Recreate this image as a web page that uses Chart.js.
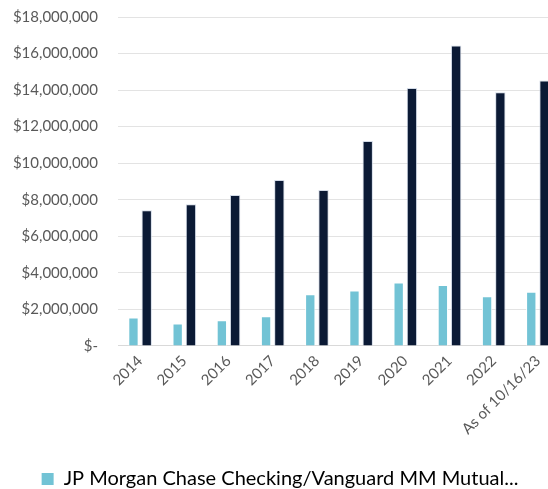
<!DOCTYPE html>
<html><head><meta charset="utf-8">
<script src="https://cdn.jsdelivr.net/npm/chart.js@4/dist/chart.umd.min.js"></script>
<style>
html,body{margin:0;padding:0;overflow:hidden;background:#fff;}
#wrap{position:relative;width:560px;height:489px;}
</style></head>
<body><div id="wrap"><canvas id="c"></canvas></div>
<script>
const categories = ["2014","2015","2016","2017","2018","2019","2020","2021","2022","As of 10/16/23"];
const seriesNames = ["JP Morgan Chase Checking/Vanguard MM Mutual Fund", "Investment Accounts"];
const checkingValues = [1560000,1230000,1410000,1630000,2830000,3030000,3470000,3330000,2720000,2960000];
const investmentValues = [7430000,7760000,8260000,9080000,8530000,11220000,14120000,16440000,13880000,14520000];
const yTicks = [0,2000000,4000000,6000000,8000000,10000000,12000000,14000000,16000000,18000000];
const legendText = "JP Morgan Chase Checking/Vanguard MM Mutual...";

const FONT = "Lato";
new Chart(document.getElementById('c'), {
  type: 'bar',
  data: {
    labels: categories,
    datasets: [
      {label: seriesNames[0], data: checkingValues, backgroundColor: '#72C3D5', borderColor: '#ffffff', borderWidth: 1,
       categoryPercentage: 0.6, barPercentage: 0.78},
      {label: seriesNames[1], data: investmentValues, backgroundColor: '#0B1A35', borderColor: 'rgba(200,210,225,0.8)', borderWidth: 1,
       categoryPercentage: 0.6, barPercentage: 0.78}
    ]
  },
  options: {
    responsive: true, maintainAspectRatio: false, animation: false,
    layout: {padding: {top: 17, right: 0, left: 0, bottom: -10}},
    plugins: {
      tooltip: {enabled: false},
      legend: {
        position: 'bottom', align: 'center',
        labels: {
          font: {family: FONT, size: 20}, color: '#595959',
          boxWidth: 12, boxHeight: 12, padding: 10,
          generateLabels: (chart) => [{
            text: legendText, fillStyle: '#72C3D5', strokeStyle: '#72C3D5', lineWidth: 0,
            datasetIndex: 0, hidden: false
          }]
        }
      }
    },
    scales: {
      x: {
        grid: {display: false, drawTicks: false},
        border: {display: true, color: '#D9D9D9'},
        afterFit: (s) => { s.height += 15; },
        ticks: {font: {family: FONT, size: 15}, color: '#595959', minRotation: 45, maxRotation: 45, padding: 6, autoSkip: false}
      },
      y: {
        min: 0, max: 18000000,
        afterBuildTicks: (s) => { s.ticks = yTicks.map(v => ({value: v})); },
        afterFit: (s) => { s.width = 118; s.paddingTop = 0; },
        grid: {color: '#E3E3E3', drawTicks: false, lineWidth: 1},
        border: {display: false},
        ticks: {
          font: {family: FONT, size: 15}, color: '#595959', padding: 20,
          callback: (v) => v === 0 ? '$-' : '$' + v.toLocaleString('en-US')
        }
      }
    }
  }
});
</script></body></html>
